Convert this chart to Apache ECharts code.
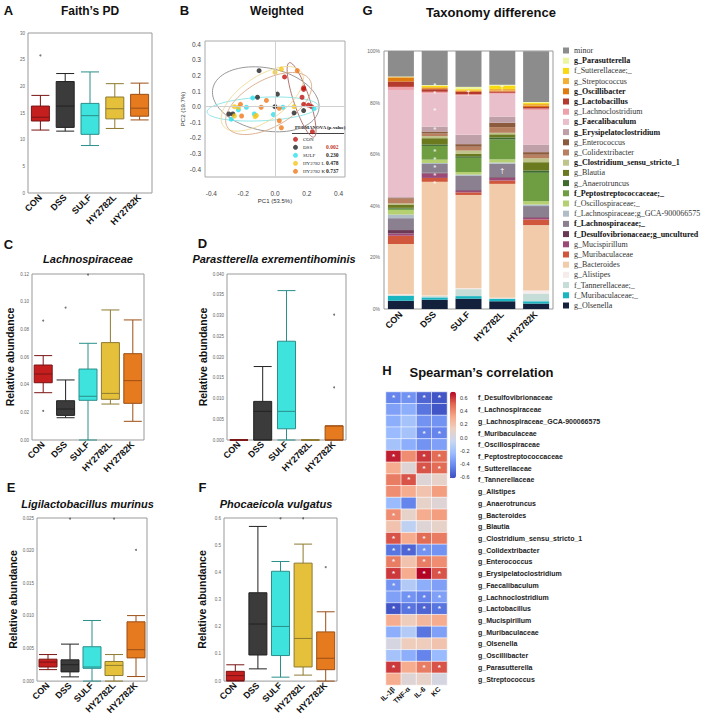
<!DOCTYPE html>
<html><head><meta charset="utf-8">
<script src="https://cdn.jsdelivr.net/npm/echarts@6/dist/echarts.min.js"></script>
<style>html,body{margin:0;padding:0;background:#fff}#c{width:709px;height:717px}</style>
</head><body><div id="c"></div>
<script>
const FONT = 'Liberation Sans, Arial, sans-serif';
const SERIF = 'Liberation Serif, Times New Roman, serif';

// ---------- shared ----------
const groups = ['CON', 'DSS', 'SULF', 'HY2782L', 'HY2782K'];
const groupColors = ['#C41E1E', '#3B3B3B', '#3DE3DC', '#E5C13B', '#E67A1F'];
const groupBorders = ['#7A1414', '#222222', '#2B8F8A', '#8E7A2E', '#9C4F16'];

// ---------- A: Faith's PD  [min, Q1, median, Q3, max] ----------
const faithPD = [[11.8, 13.5, 14.2, 16.3, 18.3], [11.6, 12.3, 16.3, 20.9, 22.4], [8.9, 11.0, 14.5, 16.8, 22.7], [12.1, 13.9, 15.8, 18.0, 20.5], [13.7, 14.4, 15.9, 18.5, 20.6]];
const faithOut = [['CON', 25.8]];
const faithRange = [0, 30, 5, 0];

// ---------- C: Lachnospiraceae ----------
const lachno = [[0.0342, 0.0414, 0.0477, 0.0542, 0.061], [0.0161, 0.0178, 0.0224, 0.0284, 0.0434], [0.0, 0.0287, 0.0316, 0.0513, 0.0699], [0.026, 0.0294, 0.0337, 0.0704, 0.094], [0.0135, 0.0265, 0.0429, 0.0624, 0.0868]];
const lachnoOut = [['CON', 0.0863], ['CON', 0.021], ['DSS', 0.0957], ['SULF', 0.1195]];
const lachnoRange = [0, 0.12, 0.02, 2];

// ---------- D: Parasutterella ----------
const paras = [[0, 0, 0, 0, 0], [0, 0, 0.0069, 0.0093, 0.0177], [0, 0.0027, 0.0069, 0.0238, 0.036], [0, 0, 0, 0, 0], [0, 0, 0, 0.0034, 0.0034]];
const parasOut = [['HY2782K', 0.0302], ['HY2782K', 0.0127]];
const parasRange = [0, 0.04, 0.005, 3];

// ---------- E: Ligilactobacillus murinus ----------
const ligi = [[0.00176, 0.00216, 0.00291, 0.00336, 0.00407], [0.00065, 0.00141, 0.00251, 0.00326, 0.00567], [0, 0.00196, 0.00216, 0.00527, 0.00929], [0, 0.00085, 0.00241, 0.00301, 0.00407], [0.0007, 0.00356, 0.00482, 0.00909, 0.01004]];
const ligiOut = [['DSS', 0.0249], ['HY2782L', 0.0249], ['HY2782K', 0.0201]];
const ligiRange = [0, 0.025, 0.005, 3];

// ---------- F: Phocaeicola vulgatus ----------
const phoc = [[0, 0.0024, 0.02, 0.036, 0.06], [0.045, 0.096, 0.21, 0.325, 0.569], [0.0145, 0.094, 0.201, 0.404, 0.44], [0.022, 0.052, 0.157, 0.434, 0.504], [0, 0.042, 0.084, 0.181, 0.255]];
const phocOut = [['SULF', 0.599], ['HY2782L', 0.599], ['HY2782K', 0.419]];
const phocRange = [0, 0.6, 0.1, 1];

// ---------- B: PCoA weighted ----------
const pcoaNames = ['CON', 'DSS', 'SULF', 'HY2782 L', 'HY2782 K'];
const pcoaColors = ['#C0140F', '#222222', '#2FE0EE', '#F5C518', '#F07818'];
const pcoaCON = [[0.06, 0.19], [0.18, 0.12], [0.18, 0.11], [0.17, 0.06], [0.18, 0.015], [0.21, 0.01], [0.23, 0.0], [0.235, -0.16]];
const pcoaDSS = [[-0.10, 0.23], [-0.11, 0.06], [0.015, 0.08], [0.0, 0.0], [-0.29, -0.047], [-0.265, -0.047], [0.12, -0.04], [0.18, -0.025]];
const pcoaSULF = [[-0.14, 0.056], [-0.18, -0.004], [-0.23, -0.02], [-0.275, -0.08], [-0.13, -0.047], [-0.01, -0.05], [0.05, -0.004], [0.245, -0.01]];
const pcoaHYL = [[0.0, 0.22], [0.04, 0.24], [0.12, 0.0], [-0.255, 0.0], [-0.23, -0.004], [-0.255, -0.06], [-0.125, -0.064], [-0.117, -0.056]];
const pcoaHYK = [[0.14, 0.23], [-0.054, 0.04], [-0.087, -0.004], [-0.217, 0.015], [-0.21, -0.06], [0.027, -0.01], [0.027, -0.09], [0.04, -0.135]];
// [centerX, centerY, semiAxisA, semiAxisB, angleDeg]
const pcoaEllipses = [[0.167, 0.043, 0.25, 0.05, -72], [-0.058, 0.047, 0.34, 0.2, -12], [-0.077, -0.015, 0.35, 0.075, 3], [-0.08, 0.05, 0.3, 0.14, 35], [-0.04, 0.02, 0.3, 0.15, 30]];
const ellipseColors = ['#A8645C', '#8C8C8C', '#86E3E8', '#EFD896', '#D9A987'];
const permanovaP = ['', '0.002', '0.230', '0.478', '0.737'];

// ---------- G: Taxonomy (legend order, top -> bottom) ----------
const taxa = ['minor', 'g_Parasutterella', 'f_Sutterellaceae;_', 'g_Streptococcus', 'g_Oscillibacter', 'g_Lactobacillus', 'g_Lachnoclostridium', 'g_Faecalibaculum', 'g_Erysipelatoclostridium', 'g_Enterococcus', 'g_Colidextribacter', 'g_Clostridium_sensu_stricto_1', 'g_Blautia', 'g_Anaerotruncus', 'f_Peptostreptococcaceae;_', 'f_Oscillospiraceae;_', 'f_Lachnospiraceae;g_GCA-900066575', 'f_Lachnospiraceae;_', 'f_Desulfovibrionaceae;g_uncultured', 'g_Mucispirillum', 'g_Muribaculaceae', 'g_Bacteroides', 'g_Alistipes', 'f_Tannerellaceae;_', 'f_Muribaculaceae;_', 'g_Olsenella'];
const boldTaxa = ['g_Parasutterella', 'g_Oscillibacter', 'g_Lactobacillus', 'g_Faecalibaculum', 'g_Erysipelatoclostridium', 'g_Clostridium_sensu_stricto_1', 'f_Peptostreptococcaceae;_', 'f_Lachnospiraceae;_', 'f_Desulfovibrionaceae;g_uncultured'];
const taxColors = ['#8C8C8C', '#EDF5A0', '#F9D90F', '#F2B134', '#E07B10', '#B53A2E', '#F0A0A8', '#E8BFCB', '#BFA0A8', '#8C5A3C', '#B88060', '#BFC48A', '#6B7A1E', '#3F6B2E', '#6F9E42', '#B5D070', '#B0BCC6', '#8A8090', '#6A3A55', '#9B4A78', '#D0573B', '#F2CCAA', '#F6ECEC', '#C6DCD6', '#19B6C2', '#14213D'];
// percent per group: CON, DSS, SULF, HY2782L, HY2782K
const taxAbund = [
  [9.9, 13.2, 13.9, 13.1, 19.7],
  [0.1, 0.3, 0.9, 0.3, 0.3],
  [0.1, 0.5, 0.4, 1.3, 0.4],
  [0.2, 0.4, 0.3, 0.6, 0.6],
  [1.5, 0.4, 0.3, 0.4, 0.6],
  [2.1, 1.0, 1.0, 0.5, 0.6],
  [1.2, 0.6, 0.4, 0.4, 0.6],
  [41.5, 12.9, 15.3, 8.9, 13.5],
  [0.3, 1.9, 3.6, 2.3, 2.8],
  [0.3, 0.8, 1.0, 1.7, 1.0],
  [1.9, 1.0, 1.5, 2.2, 1.4],
  [0.4, 0.8, 1.3, 0.6, 1.5],
  [1.3, 2.4, 0.9, 1.2, 3.2],
  [0.3, 0.6, 0.6, 0.8, 0.9],
  [0.5, 5.3, 5.5, 7.7, 11.0],
  [1.8, 1.3, 1.0, 1.2, 1.3],
  [1.4, 0.4, 0.5, 0.5, 0.6],
  [4.6, 3.4, 5.5, 5.2, 4.3],
  [1.3, 0.3, 0.3, 0.3, 0.3],
  [0.9, 1.7, 0.6, 1.0, 0.6],
  [3.2, 1.5, 1.0, 1.3, 2.2],
  [19.5, 44.1, 36.2, 44.1, 25.3],
  [0.3, 0.2, 0.3, 0.2, 1.2],
  [0.3, 0.5, 2.7, 0.3, 3.0],
  [1.9, 0.9, 1.0, 0.9, 0.9],
  [3.2, 3.6, 4.0, 3.0, 2.1]
];
const taxAnno = [['DSS', 86.5, '*'], ['DSS', 83.4, '*'], ['DSS', 77, '*'], ['DSS', 69.5, '*'], ['DSS', 61, '*'], ['DSS', 57.9, '*'], ['DSS', 54.8, '*'], ['DSS', 51.7, '*'], ['DSS', 48.6, '*'], ['SULF', 84, '†'], ['HY2782L', 86, '†'], ['HY2782L', 53.5, '†']];

// ---------- H: Spearman ----------
const heatCols = ['IL-1β', 'TNF-α', 'IL-6', 'KC'];
const heatRows = ['f_Desulfovibrionaceae', 'f_Lachnospiraceae', 'g_Lachnospiraceae_GCA-900066575', 'f_Muribaculaceae', 'f_Oscillospiraceae', 'f_Peptostreptococcaceae', 'f_Sutterellaceae', 'f_Tannerellaceae', 'g_Alistipes', 'g_Anaerotruncus', 'g_Bacteroides', 'g_Blautia', 'g_Clostridium_sensu_stricto_1', 'g_Colidextribacter', 'g_Enterococcus', 'g_Erysipelatoclostridium', 'g_Faecalibaculum', 'g_Lachnoclostridium', 'g_Lactobacillus', 'g_Mucispirillum', 'g_Muribaculaceae', 'g_Olsenella', 'g_Oscillibacter', 'g_Parasutterella', 'g_Streptococcus'];
const heatVals = [
  [-0.45, -0.4, -0.55, -0.6], [-0.35, -0.3, -0.5, -0.6], [-0.3, -0.2, -0.4, -0.4], [-0.25, -0.2, -0.45, -0.45],
  [-0.2, -0.3, -0.4, -0.35], [0.65, 0.4, 0.6, 0.5], [0.3, 0.05, 0.55, 0.5], [0.45, 0.55, 0.05, 0.1],
  [0.4, 0.3, 0.2, 0.35], [-0.25, -0.45, 0.1, 0.05], [0.4, 0.1, 0.3, 0.35], [0.2, -0.1, 0.05, 0.1],
  [0.55, 0.3, 0.5, 0.45], [-0.5, -0.55, -0.4, -0.4], [0.45, 0.2, 0.45, 0.4], [0.6, 0.3, 0.7, 0.55],
  [-0.4, -0.15, -0.3, -0.35], [-0.35, -0.4, -0.45, -0.35], [-0.6, -0.5, -0.55, -0.5], [0.3, 0.15, 0.25, 0.3],
  [-0.3, -0.15, -0.5, -0.35], [0.0, 0.15, 0.15, 0.2], [-0.2, -0.3, -0.45, -0.25], [0.6, 0.3, 0.45, 0.55],
  [0.3, 0.05, 0.1, 0.0]
];
const heatSig = [
  [1, 1, 1, 1], [0, 0, 0, 0], [0, 0, 0, 0], [0, 0, 1, 1], [0, 0, 0, 0], [1, 0, 1, 1], [0, 0, 1, 1], [0, 1, 0, 0],
  [0, 0, 0, 0], [0, 0, 0, 0], [1, 0, 0, 0], [0, 0, 0, 0], [1, 0, 1, 0], [1, 1, 1, 0], [1, 0, 1, 0], [1, 0, 1, 1],
  [1, 0, 0, 0], [0, 1, 1, 1], [1, 1, 1, 1], [0, 0, 0, 0], [0, 0, 0, 0], [0, 0, 0, 0], [0, 0, 0, 0], [1, 0, 1, 1],
  [0, 0, 0, 0]
];
const heatRange = [-0.63, 0.7];
const coolwarm = ['#3B4CC0', '#6788EE', '#9ABBFF', '#C9D7F0', '#EDD1C2', '#F7A889', '#E26952', '#B40426'];

// ---------- layout ----------
const grids = [
  {left: 28, top: 33, width: 124, height: 160},    // 0 A
  {left: 205, top: 41, width: 140, height: 136},   // 1 B
  {left: 384, top: 51, width: 169, height: 258},   // 2 G
  {left: 32, top: 274, width: 112, height: 166},   // 3 C
  {left: 227, top: 274, width: 119, height: 166},  // 4 D
  {left: 37, top: 518, width: 110, height: 166},   // 5 E
  {left: 224, top: 518, width: 113, height: 166},  // 6 F
  {left: 386, top: 392, width: 61, height: 293},   // 7 H
  {left: 450, top: 398, width: 6, height: 79}      // 8 colorbar axis
].map((g, i) => Object.assign({show: i !== 7 && i !== 8, borderColor: i === 1 ? '#aaa' : '#999', borderWidth: 1, backgroundColor: 'transparent'}, g));

function boxX(gi) {
  return {type: 'category', gridIndex: gi, data: groups, axisTick: {show: false}, axisLine: {show: false},
    axisLabel: {rotate: 45, fontSize: 9, fontWeight: 'bold', color: '#111', margin: 3, interval: 0, fontFamily: FONT}};
}
function boxY(gi, r, name, gap) {
  return {type: 'value', gridIndex: gi, min: r[0], max: r[1], interval: r[2], axisLine: {show: false}, axisTick: {show: false}, splitLine: {show: false},
    axisLabel: {fontSize: 4.5, color: '#666', margin: 3, formatter: v => v.toFixed(r[3])},
    name: name || '', nameLocation: 'middle', nameGap: gap || 0, nameTextStyle: {fontSize: 10.5, fontWeight: 'bold', color: '#111', fontFamily: FONT}};
}
function boxSeries(gi, vals) {
  return {type: 'boxplot', xAxisIndex: gi, yAxisIndex: gi, boxWidth: [18, 18], silent: true, emphasis: {disabled: true},
    data: vals.map((v, i) => ({value: v, itemStyle: {color: groupColors[i], borderColor: groupBorders[i], borderWidth: 1}}))};
}
function outSeries(gi, pts) {
  return {type: 'scatter', xAxisIndex: gi, yAxisIndex: gi, data: pts, symbolSize: 2, itemStyle: {color: '#555'}, silent: true};
}

const xAxis = [], yAxis = [], series = [];
// A
xAxis[0] = boxX(0); yAxis[0] = boxY(0, faithRange);
// B
xAxis[1] = {type: 'value', gridIndex: 1, min: -0.44, max: 0.44, splitLine: {show: false}, axisLine: {show: false}, axisTick: {show: false},
  axisLabel: {customValues: [-0.4, -0.2, 0, 0.2, 0.4], formatter: v => v.toFixed(1), fontSize: 6.5, color: '#444', margin: 13},
  name: 'PC1 (53.5%)', nameLocation: 'middle', nameGap: 19, nameTextStyle: {fontSize: 6, color: '#333'}};
yAxis[1] = {type: 'value', gridIndex: 1, min: -0.45, max: 0.42, splitLine: {show: false}, axisLine: {show: false}, axisTick: {show: false},
  axisLabel: {customValues: [-0.4, -0.3, -0.2, -0.1, 0, 0.1, 0.2, 0.3, 0.4], formatter: v => v.toFixed(1), fontSize: 6.5, color: '#444', margin: 4},
  name: 'PC2 (19.7%)', nameLocation: 'middle', nameGap: 19, nameTextStyle: {fontSize: 6, color: '#333'}};
// G
xAxis[2] = {type: 'category', gridIndex: 2, data: groups, axisTick: {show: false}, axisLine: {show: false},
  axisLabel: {rotate: 45, fontSize: 9, fontWeight: 'bold', color: '#111', margin: 4, interval: 0}};
yAxis[2] = {type: 'value', gridIndex: 2, min: 0, max: 100, interval: 20, splitLine: {show: false}, axisLine: {show: false}, axisTick: {show: false},
  axisLabel: {formatter: '{value}%', fontSize: 5, color: '#666', margin: 4}};
// C-F
xAxis[3] = boxX(3); yAxis[3] = boxY(3, lachnoRange, 'Relative abundance', 17);
xAxis[4] = boxX(4); yAxis[4] = boxY(4, parasRange, 'Relative abundance', 19);
xAxis[5] = boxX(5); yAxis[5] = boxY(5, ligiRange, 'Relative abundance', 19);
xAxis[6] = boxX(6); yAxis[6] = boxY(6, phocRange, 'Relative abundance', 16.5);
// H
xAxis[7] = {type: 'category', gridIndex: 7, data: heatCols, axisTick: {show: false}, axisLine: {show: false},
  axisLabel: {rotate: 45, fontSize: 7, fontWeight: 'bold', color: '#111', margin: 3, interval: 0}};
yAxis[7] = {type: 'category', gridIndex: 7, data: heatRows, inverse: true, position: 'right', axisTick: {show: false}, axisLine: {show: false},
  axisLabel: {fontSize: 7, fontWeight: 'bold', color: '#222', margin: 31, interval: 0}};
xAxis[8] = {type: 'value', gridIndex: 8, show: false, min: 0, max: 1};
yAxis[8] = {type: 'value', gridIndex: 8, position: 'right', min: -0.6, max: 0.6, interval: 0.2, splitLine: {show: false}, axisLine: {show: false},
  axisTick: {show: true, length: 2, lineStyle: {color: '#333'}}, axisLabel: {fontSize: 5.5, color: '#333', margin: 4, formatter: v => v.toFixed(1)}};

// series: A
series.push(boxSeries(0, faithPD), outSeries(0, faithOut));
// B scatter
[pcoaCON, pcoaDSS, pcoaSULF, pcoaHYL, pcoaHYK].forEach((pts, i) => {
  const s = {type: 'scatter', name: pcoaNames[i], xAxisIndex: 1, yAxisIndex: 1, data: pts, symbolSize: 5, itemStyle: {color: pcoaColors[i]}, z: 3, silent: true};
  if (i === 0) s.markLine = {silent: true, symbol: 'none', label: {show: false}, lineStyle: {color: '#cfcfcf', type: 'solid', width: 1}, data: [{xAxis: 0}, {yAxis: 0}]};
  series.push(s);
});
series.push({type: 'custom', xAxisIndex: 1, yAxisIndex: 1, data: pcoaEllipses, silent: true, z: 2, encode: {x: 0, y: 1},
  renderItem: function (params, api) {
    const cx = api.value(0), cy = api.value(1), a = api.value(2), b = api.value(3), ang = api.value(4) * Math.PI / 180;
    const pts = [];
    for (let k = 0; k <= 90; k++) {
      const t = k / 90 * 2 * Math.PI;
      const x = cx + a * Math.cos(t) * Math.cos(ang) - b * Math.sin(t) * Math.sin(ang);
      const y = cy + a * Math.cos(t) * Math.sin(ang) + b * Math.sin(t) * Math.cos(ang);
      pts.push(api.coord([x, y]));
    }
    return {type: 'polyline', shape: {points: pts}, style: {fill: 'none', stroke: ellipseColors[params.dataIndex], lineWidth: 0.9}};
  }});
// G stacked bars (bottom first)
taxa.slice().reverse().forEach(name => {
  const i = taxa.indexOf(name);
  series.push({type: 'bar', name: name, stack: 'tax', xAxisIndex: 2, yAxisIndex: 2, data: taxAbund[i], barWidth: 26,
    itemStyle: {color: taxColors[i]}, emphasis: {disabled: true}, silent: true});
});
series.push({type: 'scatter', xAxisIndex: 2, yAxisIndex: 2, symbolSize: 1, itemStyle: {color: 'rgba(0,0,0,0)'}, silent: true, z: 5,
  data: taxAnno.map(a => ({value: [a[0], a[1]], label: {formatter: a[2]}})),
  label: {show: true, position: 'inside', color: '#fff', fontSize: 8, lineHeight: 7, fontWeight: 'bold'}});
// C-F
series.push(boxSeries(3, lachno), outSeries(3, lachnoOut));
series.push(boxSeries(4, paras), outSeries(4, parasOut));
series.push(boxSeries(5, ligi), outSeries(5, ligiOut));
series.push(boxSeries(6, phoc), outSeries(6, phocOut));
// H heatmap
const heatData = [];
heatVals.forEach((row, r) => row.forEach((v, c) => heatData.push([c, r, v])));
const heatIdx = series.length;
series.push({type: 'heatmap', xAxisIndex: 7, yAxisIndex: 7, data: heatData, silent: true, emphasis: {disabled: true},
  itemStyle: {borderColor: '#fff', borderWidth: 0.6},
  label: {show: true, formatter: p => heatSig[p.value[1]][p.value[0]] ? '*' : '', color: '#f2f2f2', fontSize: 8, fontWeight: 'bold'}});

const legendB = {data: pcoaNames, orient: 'vertical', left: 293, top: 136.3, itemWidth: 5, itemHeight: 5, itemGap: 2, padding: 0,
  icon: 'circle', selectedMode: false,
  textStyle: {fontFamily: SERIF, fontSize: 5, lineHeight: 6, color: '#222',
    rich: {n: {width: 23, fontSize: 5, lineHeight: 6, fontFamily: SERIF}, v: {fontSize: 5.5, fontWeight: 'bold', lineHeight: 6, fontFamily: SERIF, color: '#222'},
      r: {fontSize: 5.5, fontWeight: 'bold', lineHeight: 6, fontFamily: SERIF, color: '#C0392B'}}},
  formatter: name => { const i = pcoaNames.indexOf(name); const p = permanovaP[i]; return '{n|' + name + '}' + (p ? (i === 1 ? '{r|' + p + '}' : '{v|' + p + '}') : ''); }};
const legendG = {data: taxa, orient: 'vertical', left: 563, top: 46, itemWidth: 6, itemHeight: 6, itemGap: 1.2, padding: 0, icon: 'rect', selectedMode: false,
  textStyle: {fontFamily: SERIF, fontSize: 8, lineHeight: 9, color: '#222',
    rich: {b: {fontFamily: SERIF, fontSize: 8, lineHeight: 9, fontWeight: 'bold', color: '#111'}, n: {fontFamily: SERIF, fontSize: 8, lineHeight: 9, color: '#333'}}},
  formatter: name => (boldTaxa.indexOf(name) >= 0 ? '{b|' : '{n|') + name + '}'};

function txt(x, y, text, size, extra) {
  return {type: 'text', x: x, y: y, silent: true, style: Object.assign({text: text, fontSize: size, fontWeight: 'bold', fontFamily: FONT, fill: '#111', align: 'center', verticalAlign: 'middle'}, extra || {})};
}
const graphic = [
  txt(8.5, 10, 'A', 13), txt(184.5, 10, 'B', 13), txt(367.5, 10, 'G', 13),
  txt(8.5, 244, 'C', 13), txt(202.5, 243.5, 'D', 13), txt(11, 487.5, 'E', 13), txt(202.5, 487.5, 'F', 13), txt(387, 370.5, 'H', 13),
  txt(90, 11, 'Faith’s PD', 12), txt(277, 11, 'Weighted', 12), txt(491, 12.5, 'Taxonomy difference', 13), txt(481.5, 372, 'Spearman’s correlation', 13),
  txt(88, 259, 'Lachnospiraceae', 11, {fontStyle: 'italic'}), txt(274, 259, 'Parastterella exrementihominis', 11, {fontStyle: 'italic'}),
  txt(87.5, 503.5, 'Ligilactobacillus murinus', 11, {fontStyle: 'italic'}), txt(276, 503.5, 'Phocaeicola vulgatus', 11, {fontStyle: 'italic'}),
  txt(295, 127.5, 'PERMANOVA (p-value)', 4.8, {fontFamily: SERIF, align: 'left'}),
  {type: 'line', silent: true, shape: {x1: 292, y1: 133.5, x2: 344, y2: 133.5}, style: {stroke: '#111', lineWidth: 0.8}}
];

const option = {
  animation: false,
  backgroundColor: '#fff',
  textStyle: {fontFamily: FONT},
  grid: grids, xAxis: xAxis, yAxis: yAxis, series: series,
  legend: [legendB, legendG],
  visualMap: [{type: 'continuous', seriesIndex: heatIdx, min: heatRange[0], max: heatRange[1], left: 450, top: 391.7, itemWidth: 6, itemHeight: 86.6,
    padding: 0, calculable: false, hoverLink: false, inRange: {color: coolwarm}, textStyle: {fontSize: 5}}],
  graphic: graphic
};
const chart = echarts.init(document.getElementById('c'), null, {renderer: 'svg', width: 709, height: 717});
chart.setOption(option);
</script>
</body></html>
